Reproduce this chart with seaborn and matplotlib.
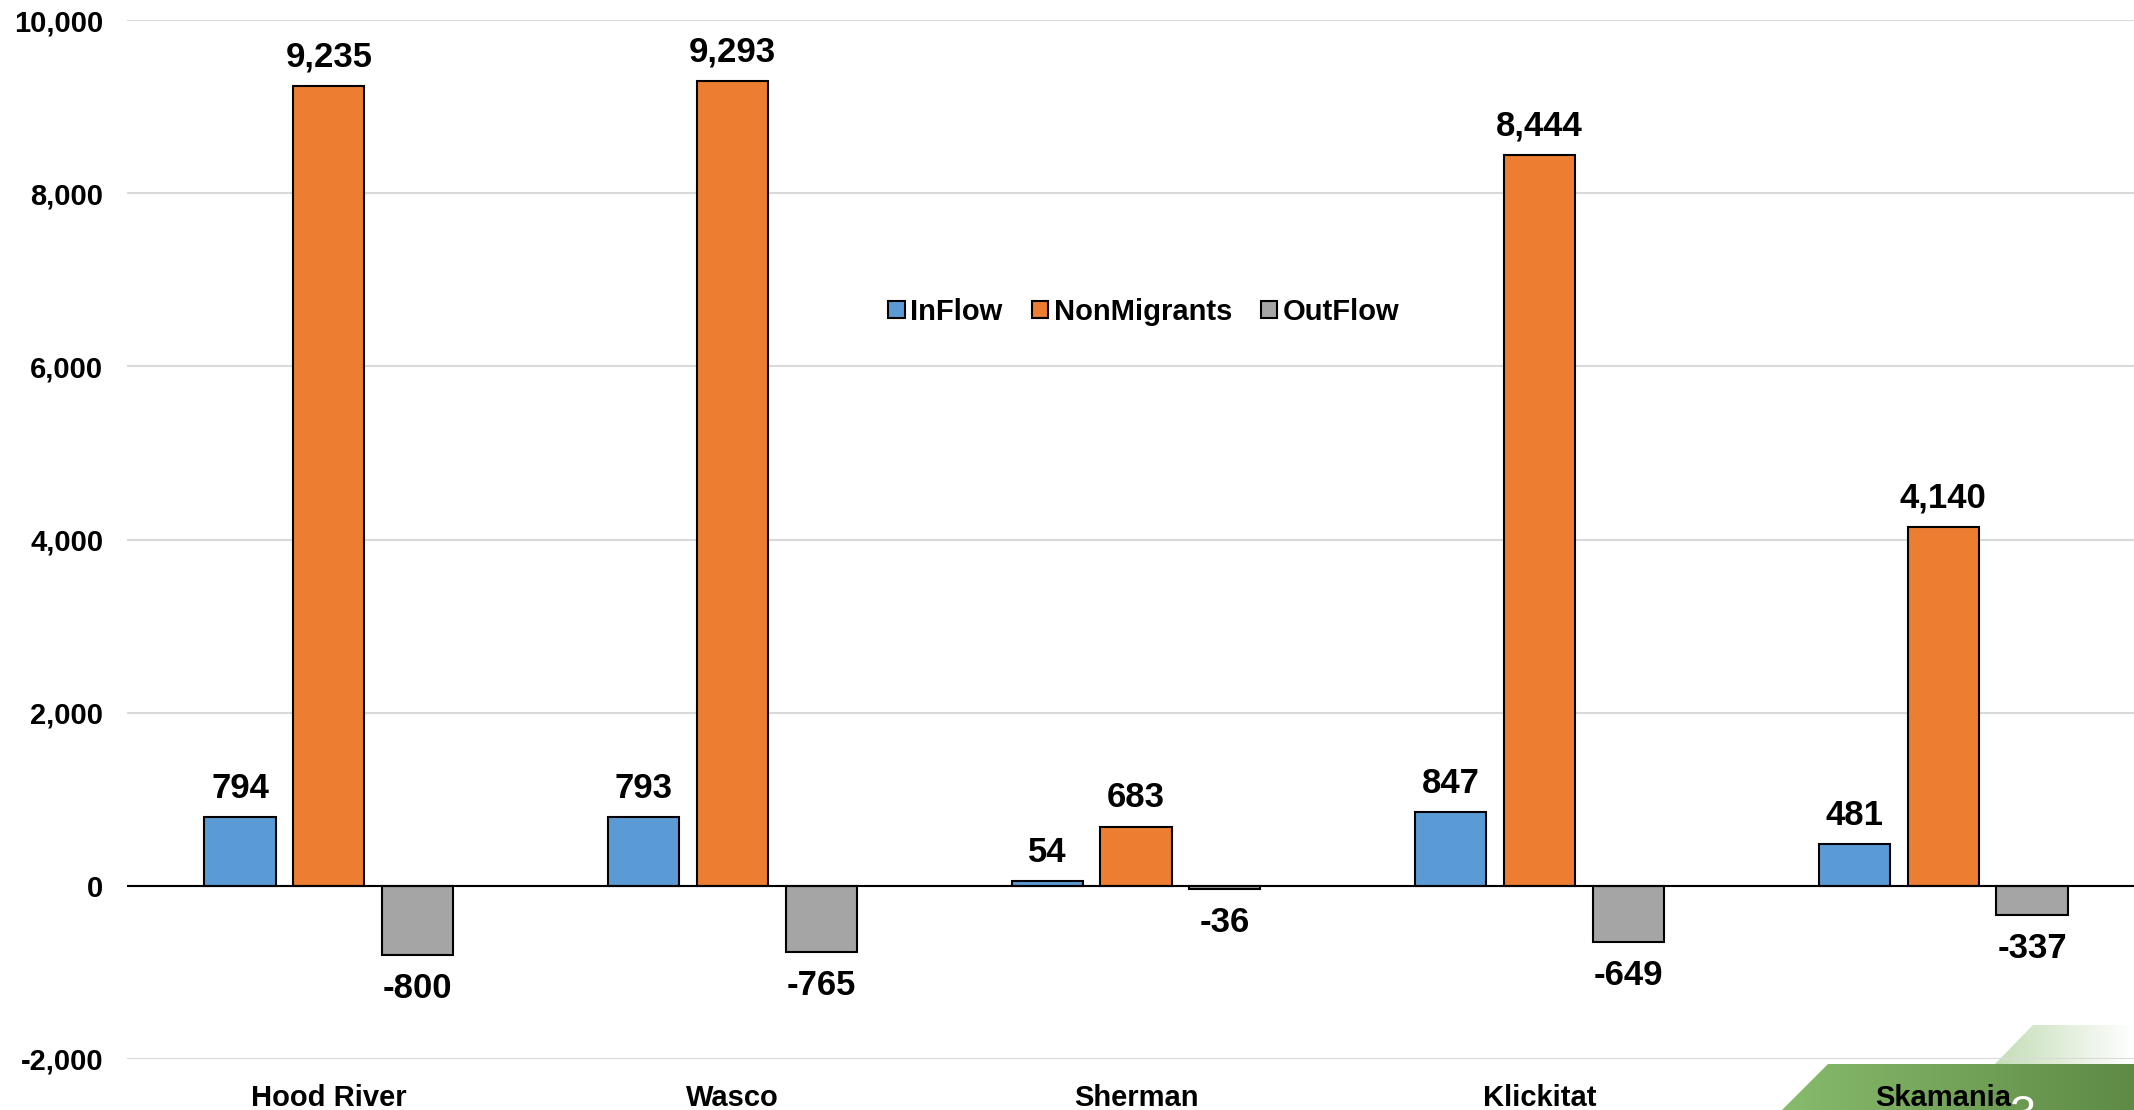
import pandas as pd
import numpy as np
import matplotlib.pyplot as plt
import seaborn as sns
from matplotlib.patches import Polygon
from matplotlib.ticker import FuncFormatter

# data
counties = ['Hood River', 'Wasco', 'Sherman', 'Klickitat', 'Skamania']
series = ['InFlow', 'NonMigrants', 'OutFlow']
inflow = [794, 793, 54, 847, 481]
nonmigrants = [9235, 9293, 683, 8444, 4140]
outflow = [-800, -765, -36, -649, -337]
colors = ['#5B9BD5', '#ED7D31', '#A5A5A5']
yticks = [-2000, 0, 2000, 4000, 6000, 8000, 10000]

df = pd.DataFrame({
    'county': counties * 3,
    'series': [s for s in series for _ in counties],
    'value': inflow + nonmigrants + outflow,
})

sns.set_theme(style='white')
plt.rcParams['font.family'] = ['Liberation Sans', 'DejaVu Sans']
plt.rcParams['font.weight'] = 'bold'

fig = plt.figure(figsize=(21.34, 11.10), dpi=100)
ax = fig.add_axes([127 / 2134, 51 / 1110, 2018 / 2134, 1039 / 1110])
ax.patch.set_alpha(0)

sns.barplot(data=df, x='county', y='value', hue='series', order=counties,
            hue_order=series, palette=colors, width=0.66, gap=0.2,
            edgecolor='black', linewidth=1.5, saturation=1, ax=ax)

for cont in ax.containers:
    vals = cont.datavalues
    ax.bar_label(cont, labels=[f'{v:,.0f}' for v in vals],
                 padding=9 if vals[0] > 0 else 12, fontsize=25,
                 fontweight='bold', color='black')

ax.set_xlim(-0.5, 4.5)
ax.set_ylim(-2000, 10000)
ax.set_yticks(yticks)
ax.yaxis.set_major_formatter(FuncFormatter(lambda v, p: f'{v:,.0f}'))
ax.grid(axis='y', color='#D9D9D9', linewidth=1.5)
ax.set_axisbelow(True)
ax.axhline(0, color='black', linewidth=1.5, zorder=1.5)
for s in ax.spines.values():
    s.set_visible(False)
ax.tick_params(axis='y', length=0, labelsize=21, pad=17, labelcolor='black')
ax.tick_params(axis='x', length=0, labelsize=21, pad=18, labelcolor='black')
ax.set_xlabel('')
ax.set_ylabel('')
for lab in ax.get_xticklabels() + ax.get_yticklabels():
    lab.set_fontweight('bold')

leg = ax.legend(loc='center', bbox_to_anchor=(0.504, 0.719), ncol=3, frameon=False,
                fontsize=21, handlelength=0.55, handleheight=0.55,
                handletextpad=0.2, columnspacing=1.0)
for t in leg.get_texts():
    t.set_fontweight('bold')
    t.set_color('black')
for h in leg.legend_handles:
    h.set_edgecolor('black')
    h.set_linewidth(1.5)

# slide decoration bottom right
W, H = 2134, 1110
def fx(x):
    return x / W
def fy(y):
    return 1 - y / H

deco = fig.add_axes([0, 0, 1, 1], zorder=-1)
deco.set_xlim(0, 1)
deco.set_ylim(0, 1)
deco.axis('off')
grad = np.linspace(0, 1, 256).reshape(1, -1)
light = Polygon([(fx(2033), fy(1025)), (fx(2134), fy(1025)), (fx(2134), fy(1064)),
                 (fx(1995), fy(1064))], closed=True, transform=deco.transAxes)
im1 = deco.imshow(grad[:, ::-1], extent=[fx(1995), 1, fy(1064), fy(1025)], aspect='auto',
                  cmap=sns.blend_palette(['#FFFFFF', '#C4DDB6'], as_cmap=True), zorder=0)
im1.set_clip_path(light)
dark = Polygon([(fx(1828), fy(1064)), (1, fy(1064)), (1, 0), (fx(1782), 0)],
               closed=True, transform=deco.transAxes)
im2 = deco.imshow(grad, extent=[fx(1782), 1, 0, fy(1064)], aspect='auto',
                  cmap=sns.blend_palette(['#88BB6C', '#5E8A45'], as_cmap=True), zorder=1)
im2.set_clip_path(dark)
fig.text(fx(2022), fy(1094), '3', color='white', fontsize=34, fontweight='normal',
         ha='center', va='top')

fig.savefig('out.png', dpi=100)
